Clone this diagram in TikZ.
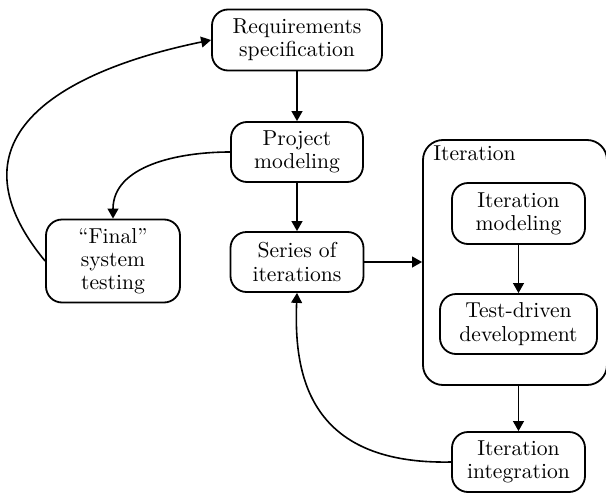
\documentclass[tikz,border=0pt]{standalone}
\usetikzlibrary{arrows.meta}
\begin{document}
\begin{tikzpicture}[x=0.5pt,y=-0.5pt,
  box/.style={draw, line width=0.9pt, rounded corners=8pt, align=center,
    inner sep=0pt, font=\fontsize{10.8}{11.6}\selectfont},
  flow/.style={line width=0.8pt, -{Triangle[length=5pt,width=5.4pt]}}]
\useasboundingbox (0,0) rectangle (606,493);

% main phases
\node[box, minimum width=85pt, minimum height=30.5pt] (req) at (297,40) {Requirements\\specification};
\node[box, minimum width=66pt, minimum height=30pt] (proj) at (297,152) {Project\\modeling};
\node[box, minimum width=67pt, minimum height=41.5pt] (final) at (113,261) {``Final''\\system\\testing};
\node[box, minimum width=66.5pt, minimum height=30pt] (series) at (297,262) {Series of\\iterations};

% single iteration
\node[draw, line width=0.9pt, rounded corners=10pt, inner sep=0pt,
  minimum width=92pt, minimum height=122.5pt] (iter) at (515,262.5) {};
\node[anchor=north west, inner sep=0pt, font=\fontsize{10.8}{11.6}\selectfont] (iterlabel) at (433,145) {Iteration};
\node[box, minimum width=66.5pt, minimum height=30.5pt] (imod) at (518.5,213.5) {Iteration\\modeling};
\node[box, minimum width=78.5pt, minimum height=30pt] (tdd) at (518.5,324) {Test-driven\\development};
\node[box, minimum width=66.5pt, minimum height=30pt] (integ) at (518.5,462) {Iteration\\integration};

% connectors
\draw[flow] (req) -- (proj);
\draw[flow] (proj) -- (series);
\draw[flow] (proj.west) to[out=180, in=90, looseness=1.0] (final.north);
\draw[flow] (final.west) .. controls (-58,136) and (65,70) .. (req.west);
\draw[flow] (series) -- (iter.west |- series);
\draw[flow] (imod) -- (tdd);
\draw[flow] (iter.south -| integ) -- (integ);
\draw[flow] (integ.west) .. controls (305,465) and (294,370) .. (series.south);
\end{tikzpicture}
\end{document}
